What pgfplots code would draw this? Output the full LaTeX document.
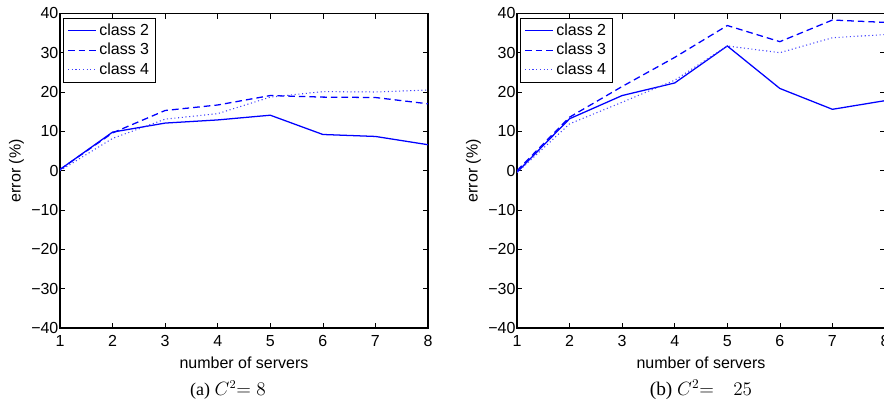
\documentclass[border=0pt]{standalone}
\usepackage{fontspec}
\setmainfont{Liberation Sans}
\newfontfamily\capfont{Liberation Serif}
\usepackage{pgfplots}
\pgfplotsset{compat=1.18}
\pgfplotstableread{
x c2 c3 c4
1 0.3 0.3 0.0
2 9.8 9.6 8.2
3 12.1 15.3 13.1
4 12.9 16.7 14.5
5 14.1 19.1 18.7
6 9.2 18.7 20.1
7 8.7 18.6 20.0
8 6.6 17.0 20.5
}\dataA
\pgfplotstableread{
x c2 c3 c4
1 -0.4 0.0 -0.5
2 13.2 13.6 11.9
3 19.1 21.4 17.4
4 22.3 28.8 23.0
5 31.7 36.9 31.7
6 20.9 32.8 30.0
7 15.6 38.3 33.8
8 17.8 37.7 34.6
}\dataB
\pgfplotsset{
  myaxis/.style={
    scale only axis, width=276pt, height=236pt,
    xmin=1, xmax=8, ymin=-40, ymax=40,
    xtick={1,...,8}, ytick={-40,-30,...,40},
    yticklabels={−40,−30,−20,−10,0,10,20,30,40},
    tick align=inside, major tick length=4pt,
    axis line style={black, line width=0.8pt},
    tick style={black, line width=0.5pt},
    ticklabel style={font=\fontsize{12}{14}\selectfont},
    /pgf/number format/assume math mode=true,
    yticklabel style={inner sep=1pt},
    xticklabel style={inner sep=1pt, yshift=-4.5pt},
    label style={font=\fontsize{12}{14}\selectfont},
    xlabel={number of servers}, ylabel={error (\%)},
    xlabel style={yshift=-3pt},
    ylabel style={yshift=1pt},
    legend style={at={(0.008,0.985)}, anchor=north west, draw=black, line width=0.6pt,
      font=\fontsize{12}{14}\selectfont, cells={anchor=west}, row sep=0.5pt,
      inner xsep=3pt, inner ysep=2pt},
    legend image code/.code={\draw[#1] (0pt,0pt) -- (21pt,0pt);},
    legend image post style={line width=1pt},
  },
  c2/.style={blue, line width=0.95pt},
  c3/.style={blue, line width=0.95pt, dash pattern=on 5pt off 3pt},
  c4/.style={blue!75, line width=0.8pt, dotted},
}
\begin{document}
\begin{tikzpicture}
\useasboundingbox (0,0) rectangle (663pt,303.75pt);
\begin{axis}[myaxis, name=A, at={(45pt,57.75pt)}, anchor=south west]
\addplot[c2] table[x=x,y=c2] {\dataA};
\addplot[c3] table[x=x,y=c3] {\dataA};
\addplot[c4] table[x=x,y=c4] {\dataA};
\legend{class 2, class 3, class 4}
\end{axis}
\begin{axis}[myaxis, name=B, at={(387.75pt,57.75pt)}, anchor=south west]
\addplot[c2] table[x=x,y=c2] {\dataB};
\addplot[c3] table[x=x,y=c3] {\dataB};
\addplot[c4] table[x=x,y=c4] {\dataB};
\legend{class 2, class 3, class 4}
\end{axis}
\node[font=\capfont\fontsize{13.5}{16}\selectfont, yshift=-46.5pt, xshift=-12pt] at (A.south) {(a) $C^2{=}\;8$};
\node[font=\capfont\fontsize{14.5}{17}\selectfont, yshift=-46.5pt] at (B.south) {(b) $C^2{=}\quad 25$};
\end{tikzpicture}
\end{document}
